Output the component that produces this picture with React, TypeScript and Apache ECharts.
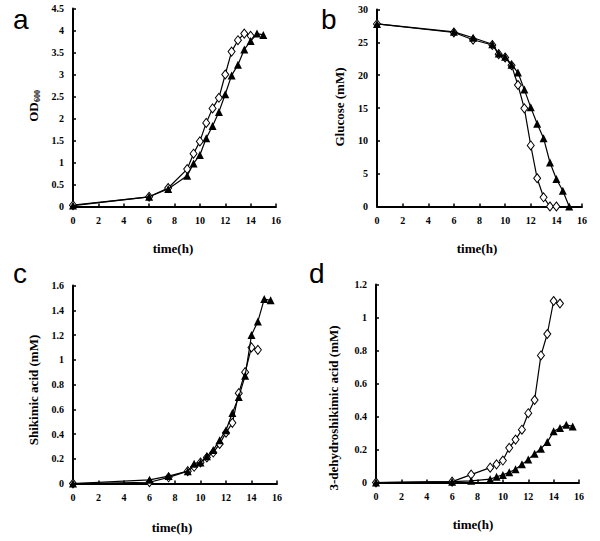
import React, { useEffect, useRef } from "react";
import * as echarts from "echarts";

// Panel a: OD600
const aDiamondT = [0, 6, 7.5, 9, 9.5, 10, 10.5, 11, 11.5, 12, 12.5, 13, 13.5, 14];
const aDiamondV = [0.03, 0.22, 0.42, 0.85, 1.2, 1.48, 1.9, 2.23, 2.47, 3.0, 3.52, 3.78, 3.93, 3.88];
const aTriT = [0, 6, 7.5, 9, 9.5, 10, 10.5, 11, 11.5, 12, 12.5, 13, 13.5, 14, 14.5, 15];
const aTriV = [0.02, 0.22, 0.4, 0.7, 0.98, 1.17, 1.55, 1.83, 2.15, 2.55, 2.98, 3.22, 3.57, 3.76, 3.93, 3.9];

// Panel b: Glucose
const bDiamondT = [0, 6, 7.5, 9, 9.5, 10, 10.5, 11, 11.5, 12, 12.5, 13, 13.5, 14];
const bDiamondV = [27.8, 26.5, 25.4, 24.6, 23.2, 22.7, 21.5, 18.5, 14.95, 9.3, 4.3, 1.4, 0, 0];
const bTriT = [0, 6, 7.5, 9, 9.5, 10, 10.5, 11, 11.5, 12, 12.5, 13, 13.5, 14, 14.5, 15];
const bTriV = [27.8, 26.6, 25.7, 24.7, 23.3, 22.8, 21.6, 20.4, 17.8, 15.1, 12.6, 10.4, 6.7, 4.2, 2.4, 0];

// Panel c: Shikimic acid
const cDiamondT = [0, 6, 7.5, 9, 9.5, 10, 10.5, 11, 11.5, 12, 12.5, 13, 13.5, 14, 14.5];
const cDiamondV = [0, 0.01, 0.05, 0.1, 0.135, 0.17, 0.21, 0.25, 0.32, 0.41, 0.49, 0.73, 0.9, 1.1, 1.08];
const cTriT = [0, 6, 7.5, 9, 9.5, 10, 10.5, 11, 11.5, 12, 12.5, 13, 13.5, 14, 14.5, 15, 15.5];
const cTriV = [0, 0.03, 0.06, 0.1, 0.16, 0.17, 0.22, 0.27, 0.35, 0.43, 0.57, 0.7, 0.87, 1.2, 1.31, 1.49, 1.48];

// Panel d: 3-dehydroshikimic acid
const dDiamondT = [0, 6, 7.5, 9, 9.5, 10, 10.5, 11, 11.5, 12, 12.5, 13, 13.5, 14, 14.5];
const dDiamondV = [0, 0.005, 0.048, 0.09, 0.11, 0.133, 0.21, 0.26, 0.32, 0.42, 0.5, 0.77, 0.9, 1.1, 1.085];
const dTriT = [0, 6, 7.5, 9, 9.5, 10, 10.5, 11, 11.5, 12, 12.5, 13, 13.5, 14, 14.5, 15, 15.5];
const dTriV = [0, 0.005, 0.01, 0.02, 0.035, 0.046, 0.062, 0.08, 0.11, 0.14, 0.175, 0.205, 0.245, 0.31, 0.33, 0.35, 0.34];

const yMax = [4.5, 30, 1.6, 1.2];
const yInterval = [0.5, 5, 0.2, 0.2];
const panelLetters = ["a", "b", "c", "d"];
const xTitle = "time(h)";
const yTitles = ["OD", "Glucose (mM)", "Shikimic acid (mM)", "3-dehydroshikimic acid (mM)"];

const SERIF = "'Liberation Serif', 'Times New Roman', serif";
const SANS = "'Liberation Sans', Arial, sans-serif";

const grids = [
  { left: 73, top: 8.5, width: 203, height: 198 },
  { left: 377, top: 9.5, width: 205, height: 197 },
  { left: 73, top: 285.5, width: 204, height: 198 },
  { left: 376, top: 284.5, width: 203, height: 198 },
];

const pairs = (t: number[], v: number[]) => t.map((x, i) => [x, v[i]]);

export default function App() {
  const ref = useRef<HTMLDivElement>(null);
  useEffect(() => {
    if (!ref.current) return;
    const chart = echarts.init(ref.current, null, { renderer: "svg" });
    const data = [
      [pairs(aDiamondT, aDiamondV), pairs(aTriT, aTriV)],
      [pairs(bDiamondT, bDiamondV), pairs(bTriT, bTriV)],
      [pairs(cDiamondT, cDiamondV), pairs(cTriT, cTriV)],
      [pairs(dDiamondT, dDiamondV), pairs(dTriT, dTriV)],
    ];
    const axisLine = { show: true, onZero: false, lineStyle: { color: "#000", width: 2 } };
    const axisTick = { show: true, inside: true, length: 3, lineStyle: { color: "#000", width: 1.5 } };
    const axisLabel = { color: "#000", fontFamily: SERIF, fontWeight: "bold" as const, fontSize: 10 };
    const series: any[] = [];
    data.forEach((pd, i) => {
      series.push({
        type: "line",
        xAxisIndex: i,
        yAxisIndex: i,
        data: pd[0],
        symbol: "diamond",
        symbolSize: [7, 9],
        lineStyle: { color: "#000", width: 1.2 },
        itemStyle: { color: "#fff", borderColor: "#000", borderWidth: 1 },
        z: 2,
      });
      series.push({
        type: "line",
        xAxisIndex: i,
        yAxisIndex: i,
        data: pd[1],
        symbol: "triangle",
        symbolSize: [8, 8],
        lineStyle: { color: "#000", width: 1.2 },
        itemStyle: { color: "#000", borderColor: "#000", borderWidth: 0 },
        z: 3,
      });
    });
    const titleStyle = { fontFamily: SERIF, fontWeight: "bold", fontSize: 13, fill: "#000" };
    const graphic: any[] = [];
    const letterPos = [
      [13, 19],
      [321, 19],
      [13, 273],
      [309, 273],
    ];
    panelLetters.forEach((l, i) => {
      graphic.push({
        type: "text",
        x: letterPos[i][0],
        y: letterPos[i][1],
        style: { text: l, fontFamily: SANS, fontSize: 28, fill: "#000", verticalAlign: "middle" },
      });
    });
    const xTitlePos = [
      [173, 248],
      [477, 248],
      [172, 527],
      [473, 524],
    ];
    xTitlePos.forEach((p) => {
      graphic.push({
        type: "text",
        x: p[0],
        y: p[1],
        style: { ...titleStyle, text: xTitle, align: "center", verticalAlign: "middle" },
      });
    });
    const yTitlePos = [
      [33, 112],
      [339, 107],
      [33, 390],
      [333, 408],
    ];
    yTitlePos.forEach((p, i) => {
      graphic.push({
        type: "text",
        x: p[0],
        y: p[1],
        rotation: Math.PI / 2,
        style: { ...titleStyle, text: yTitles[i], align: "center", verticalAlign: "middle" },
      });
    });
    graphic.push({
      type: "text",
      x: 37,
      y: 96,
      rotation: Math.PI / 2,
      style: { ...titleStyle, fontSize: 8, text: "600", align: "center", verticalAlign: "middle" },
    });

    chart.setOption({
      animation: false,
      backgroundColor: "#fff",
      grid: grids.map((g) => ({ ...g, containLabel: false })),
      xAxis: grids.map((_, i) => ({
        type: "value",
        gridIndex: i,
        min: 0,
        max: 16,
        interval: 2,
        splitLine: { show: false },
        axisLine,
        axisTick,
        axisLabel: { ...axisLabel, margin: 9 },
      })),
      yAxis: grids.map((_, i) => ({
        type: "value",
        gridIndex: i,
        min: 0,
        max: yMax[i],
        interval: yInterval[i],
        splitLine: { show: false },
        axisLine,
        axisTick,
        axisLabel: { ...axisLabel, margin: 9 },
      })),
      series,
      graphic,
    });
    return () => chart.dispose();
  }, []);
  return (
    <div
      ref={ref}
      style={{ position: "absolute", left: 0, top: 0, width: 600, height: 541, background: "#fff" }}
    />
  );
}
